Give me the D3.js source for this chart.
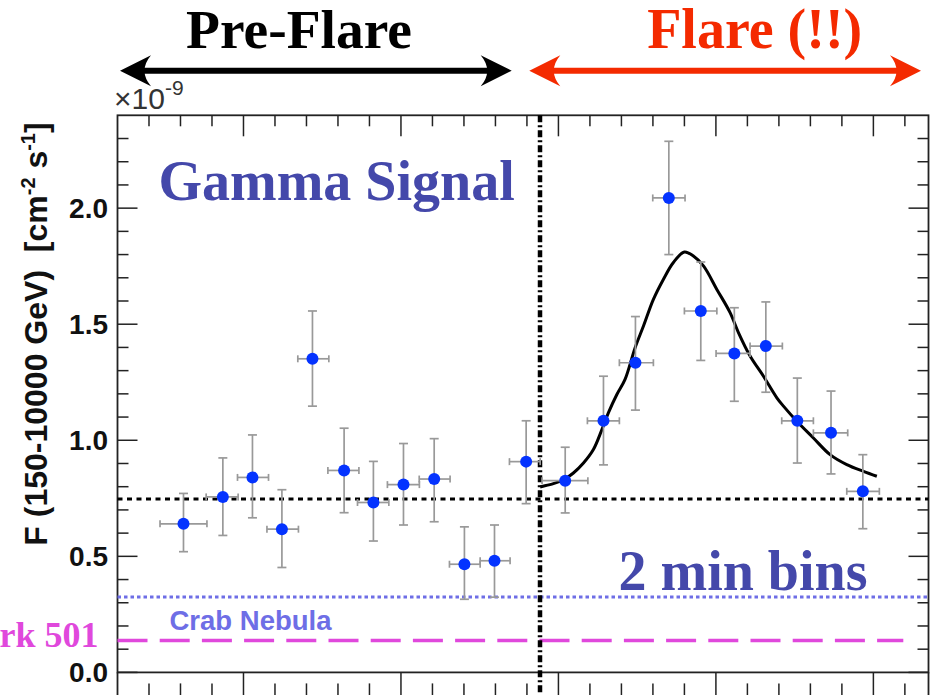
<!DOCTYPE html>
<html>
<head>
<meta charset="utf-8">
<script src="https://cdn.jsdelivr.net/npm/d3@7"></script>
<style>
  html, body { margin: 0; padding: 0; background: #fff; }
  svg { display: block; }
  text { white-space: pre; }
</style>
</head>
<body>
<div id="chart"></div>
<script>
// 2-minute light-curve bins (time in minutes, flux in 1e-9 cm^-2 s^-1)
var binTime  = [6.19, 8.69, 10.57, 12.44, 14.38, 16.39, 18.25, 20.16, 22.11, 24.03, 25.94, 27.95,
                30.43, 32.86, 34.89, 37.01, 39.04, 41.17, 43.17, 45.17, 47.31, 49.33];
var binStart = [4.70, 7.63, 9.62, 11.49, 13.45, 15.36, 17.24, 19.14, 21.16, 23.08, 25.03, 26.89,
                28.96, 31.84, 33.87, 35.99, 38.00, 40.01, 42.17, 44.18, 46.19, 48.31];
var binEnd   = [7.68, 9.66, 11.59, 13.49, 15.42, 17.33, 19.23, 21.17, 23.12, 25.03, 26.93, 28.84,
                31.87, 33.87, 36.03, 38.04, 40.06, 42.17, 44.22, 46.19, 48.37, 50.38];
var flux     = [0.640, 0.756, 0.840, 0.617, 1.351, 0.870, 0.732, 0.809, 0.833, 0.466, 0.481, 0.908,
                0.826, 1.084, 1.334, 2.044, 1.557, 1.374, 1.406, 1.084, 1.032, 0.780];
var fluxLow  = [0.520, 0.590, 0.666, 0.452, 1.147, 0.688, 0.566, 0.635, 0.649, 0.315, 0.324, 0.727,
                0.687, 0.894, 1.130, 1.800, 1.344, 1.168, 1.207, 0.902, 0.855, 0.619];
var fluxHigh = [0.771, 0.924, 1.023, 0.787, 1.557, 1.052, 0.909, 0.986, 1.007, 0.627, 0.635, 1.084,
                0.970, 1.276, 1.533, 2.288, 1.768, 1.571, 1.596, 1.268, 1.212, 0.938];

// flare fit curve
var fitTime = [28.84, 28.95, 29.68, 30.32, 30.95, 31.59, 32.22, 32.76, 33.17, 33.71, 34.23, 34.87, 35.40,
               36.03, 36.67, 37.30, 38.00, 38.57, 39.21, 40.06, 40.90, 41.43, 42.17, 43.02, 43.87,
               44.29, 45.14, 46.19, 47.25, 48.31, 49.37, 50.22];
var fitFlux = [0.799, 0.801, 0.813, 0.830, 0.859, 0.902, 0.960, 1.046, 1.118, 1.197, 1.262, 1.399, 1.492,
               1.607, 1.694, 1.766, 1.811, 1.794, 1.751, 1.650, 1.550, 1.464, 1.363, 1.276, 1.183,
               1.147, 1.082, 1.010, 0.938, 0.895, 0.866, 0.845];

// reference levels
var preFlareMean = 0.747, crabFlux = 0.325, mrkFlux = 0.137;
var flareStart = 28.83, mrkLineEnd = 51.9;

var yMajor = [0, 0.5, 1.0, 1.5, 2.0];
var yLabels = ["0.0", "0.5", "1.0", "1.5", "2.0"];
var yMinor = [0.1, 0.2, 0.3, 0.4, 0.6, 0.7, 0.8, 0.9, 1.1, 1.2, 1.3, 1.4, 1.6, 1.7, 1.8, 1.9, 2.1, 2.2, 2.3];
var xMajor = [10, 20, 30, 40, 50];
var xMinor = [4, 6, 8, 12, 14, 16, 18, 22, 24, 26, 28, 32, 34, 36, 38, 42, 44, 46, 48, 52];

var W = 937, H = 695;
var L = 117.5, R = 928.5, T = 115.3, B = 672.4;
var SERIF = "'Liberation Serif','Times New Roman',Times,serif";
var SANS = "'Liberation Sans',Arial,Helvetica,sans-serif";
var BLUE_TXT = "#4448aa", RED = "#f42a00", MAG = "#e048dc", CRAB = "#6e6ee6";

var x = d3.scaleLinear().domain([2, 53.5]).range([L, R]);
var y = d3.scaleLinear().domain([0, 2.4]).range([B, T]);

var svg = d3.select("#chart").append("svg").attr("width", W).attr("height", H);

// frame (left/right sides run on into the cut-off panel below)
svg.append("rect").attr("x", L).attr("y", T).attr("width", R - L).attr("height", B - T)
  .attr("fill", "none").attr("stroke", "#222").attr("stroke-width", 1.8);
[L, R].forEach(function (px) {
  svg.append("line").attr("x1", px).attr("x2", px).attr("y1", B).attr("y2", H).attr("stroke", "#222").attr("stroke-width", 1.8);
});

// ticks
var tk = svg.append("g").attr("stroke", "#222").attr("stroke-width", 1.5);
yMajor.forEach(function (v) {
  tk.append("line").attr("x1", L).attr("x2", L + 20).attr("y1", y(v)).attr("y2", y(v));
  tk.append("line").attr("x1", R).attr("x2", R - 20).attr("y1", y(v)).attr("y2", y(v));
});
yMinor.forEach(function (v) {
  tk.append("line").attr("x1", L).attr("x2", L + 11).attr("y1", y(v)).attr("y2", y(v));
  tk.append("line").attr("x1", R).attr("x2", R - 11).attr("y1", y(v)).attr("y2", y(v));
});
xMajor.forEach(function (t) {
  tk.append("line").attr("x1", x(t)).attr("x2", x(t)).attr("y1", T).attr("y2", T + 21);
  tk.append("line").attr("x1", x(t)).attr("x2", x(t)).attr("y1", B).attr("y2", H);
});
xMinor.forEach(function (t) {
  tk.append("line").attr("x1", x(t)).attr("x2", x(t)).attr("y1", T).attr("y2", T + 11);
  tk.append("line").attr("x1", x(t)).attr("x2", x(t)).attr("y1", B + 11).attr("y2", H);
});

// y tick labels
yMajor.forEach(function (v, i) {
  svg.append("text").attr("x", 108).attr("y", y(v) + 10).attr("text-anchor", "end")
    .attr("font-family", SANS).attr("font-weight", "bold").attr("font-size", 28).attr("fill", "#111")
    .text(yLabels[i]);
});

// exponent
var ex = svg.append("text").attr("x", 114).attr("y", 109).attr("font-family", SANS)
  .attr("font-size", 30).attr("fill", "#333");
ex.append("tspan").text("\u00d710");
ex.append("tspan").attr("dy", -14).attr("font-size", 21).text("-9");

// y axis title
var yt = svg.append("text").attr("transform", "translate(47,334) rotate(-90)").attr("text-anchor", "middle")
  .attr("font-family", SANS).attr("font-weight", "bold").attr("font-size", 32).attr("fill", "#111");
yt.append("tspan").text("F (150-10000 GeV)  [cm");
yt.append("tspan").attr("dy", -12).attr("font-size", 20).text("-2");
yt.append("tspan").attr("dy", 12).text(" s");
yt.append("tspan").attr("dy", -12).attr("font-size", 20).text("-1");
yt.append("tspan").attr("dy", 12).text("]");

// reference lines
svg.append("line").attr("x1", x(2)).attr("x2", x(mrkLineEnd)).attr("y1", y(mrkFlux)).attr("y2", y(mrkFlux))
  .attr("stroke", MAG).attr("stroke-width", 3.5).attr("stroke-dasharray", "30,12.2");
svg.append("line").attr("x1", L).attr("x2", R).attr("y1", y(crabFlux)).attr("y2", y(crabFlux))
  .attr("stroke", CRAB).attr("stroke-width", 3).attr("stroke-dasharray", "3.5,3");
svg.append("line").attr("x1", L).attr("x2", R).attr("y1", y(preFlareMean)).attr("y2", y(preFlareMean))
  .attr("stroke", "#000").attr("stroke-width", 3.2).attr("stroke-dasharray", "5,4.5");

// flare start marker
svg.append("line").attr("x1", x(flareStart)).attr("x2", x(flareStart)).attr("y1", T).attr("y2", H)
  .attr("stroke", "#000").attr("stroke-width", 4.5).attr("stroke-dasharray", "7,3,2,3");

// fit curve
var fit = fitTime.map(function (t, i) { return [t, fitFlux[i]]; });
svg.append("path").attr("d", d3.line().x(function (d) { return x(d[0]); }).y(function (d) { return y(d[1]); })
  .curve(d3.curveCatmullRom)(fit)).attr("fill", "none").attr("stroke", "#000").attr("stroke-width", 3);

// error bars and points
var eb = svg.append("g").attr("stroke", "#999").attr("stroke-width", 1.7);
binTime.forEach(function (t, i) {
  var cx = x(t), cy = y(flux[i]);
  eb.append("line").attr("x1", cx).attr("x2", cx).attr("y1", y(fluxLow[i])).attr("y2", y(fluxHigh[i]));
  eb.append("line").attr("x1", cx - 4.5).attr("x2", cx + 4.5).attr("y1", y(fluxLow[i])).attr("y2", y(fluxLow[i]));
  eb.append("line").attr("x1", cx - 4.5).attr("x2", cx + 4.5).attr("y1", y(fluxHigh[i])).attr("y2", y(fluxHigh[i]));
  eb.append("line").attr("x1", x(binStart[i])).attr("x2", x(binEnd[i])).attr("y1", cy).attr("y2", cy);
  eb.append("line").attr("x1", x(binStart[i])).attr("x2", x(binStart[i])).attr("y1", cy - 3.5).attr("y2", cy + 3.5);
  eb.append("line").attr("x1", x(binEnd[i])).attr("x2", x(binEnd[i])).attr("y1", cy - 3.5).attr("y2", cy + 3.5);
});
binTime.forEach(function (t, i) {
  svg.append("circle").attr("cx", x(t)).attr("cy", y(flux[i])).attr("r", 6).attr("fill", "#0433ff");
});

// in-plot labels
svg.append("text").attr("x", 158.5).attr("y", 200).attr("font-family", SERIF).attr("font-weight", "bold")
  .attr("font-size", 56).attr("fill", BLUE_TXT).text("Gamma Signal");
svg.append("text").attr("x", 618.5).attr("y", 590).attr("font-family", SERIF).attr("font-weight", "bold")
  .attr("font-size", 56).attr("fill", BLUE_TXT).text("2 min bins");
svg.append("text").attr("x", 169.5).attr("y", 629.5).attr("font-family", SANS).attr("font-weight", "bold")
  .attr("font-size", 27.5).attr("fill", CRAB).text("Crab Nebula");
svg.append("text").attr("x", 98.5).attr("y", 647).attr("text-anchor", "end").attr("font-family", SERIF)
  .attr("font-weight", "bold").attr("font-size", 36).attr("fill", MAG).text("Mrk 501");

// period arrows + titles
function arrow(x0, x1, yy, col) {
  svg.append("line").attr("x1", x0 + 12).attr("x2", x1 - 12).attr("y1", yy).attr("y2", yy)
    .attr("stroke", col).attr("stroke-width", 6);
  [[x0, 1], [x1, -1]].forEach(function (a) {
    var tip = a[0], s = a[1];
    svg.append("path").attr("fill", col).attr("d",
      "M" + tip + "," + yy + " L" + (tip + s * 31) + "," + (yy - 15.5) +
      " Q" + (tip + s * 18) + "," + yy + " " + (tip + s * 31) + "," + (yy + 15.5) + " Z");
  });
}
arrow(120, 511.7, 70.7, "#000");
arrow(529.3, 921, 70.7, RED);
svg.append("text").attr("x", 299).attr("y", 47.5).attr("text-anchor", "middle").attr("font-family", SERIF)
  .attr("font-weight", "bold").attr("font-size", 55.5).attr("fill", "#000").text("Pre-Flare");
svg.append("text").attr("x", 754.7).attr("y", 47.5).attr("text-anchor", "middle").attr("font-family", SERIF)
  .attr("font-weight", "bold").attr("font-size", 56).attr("fill", RED).text("Flare (!!)");
</script>
</body>
</html>
